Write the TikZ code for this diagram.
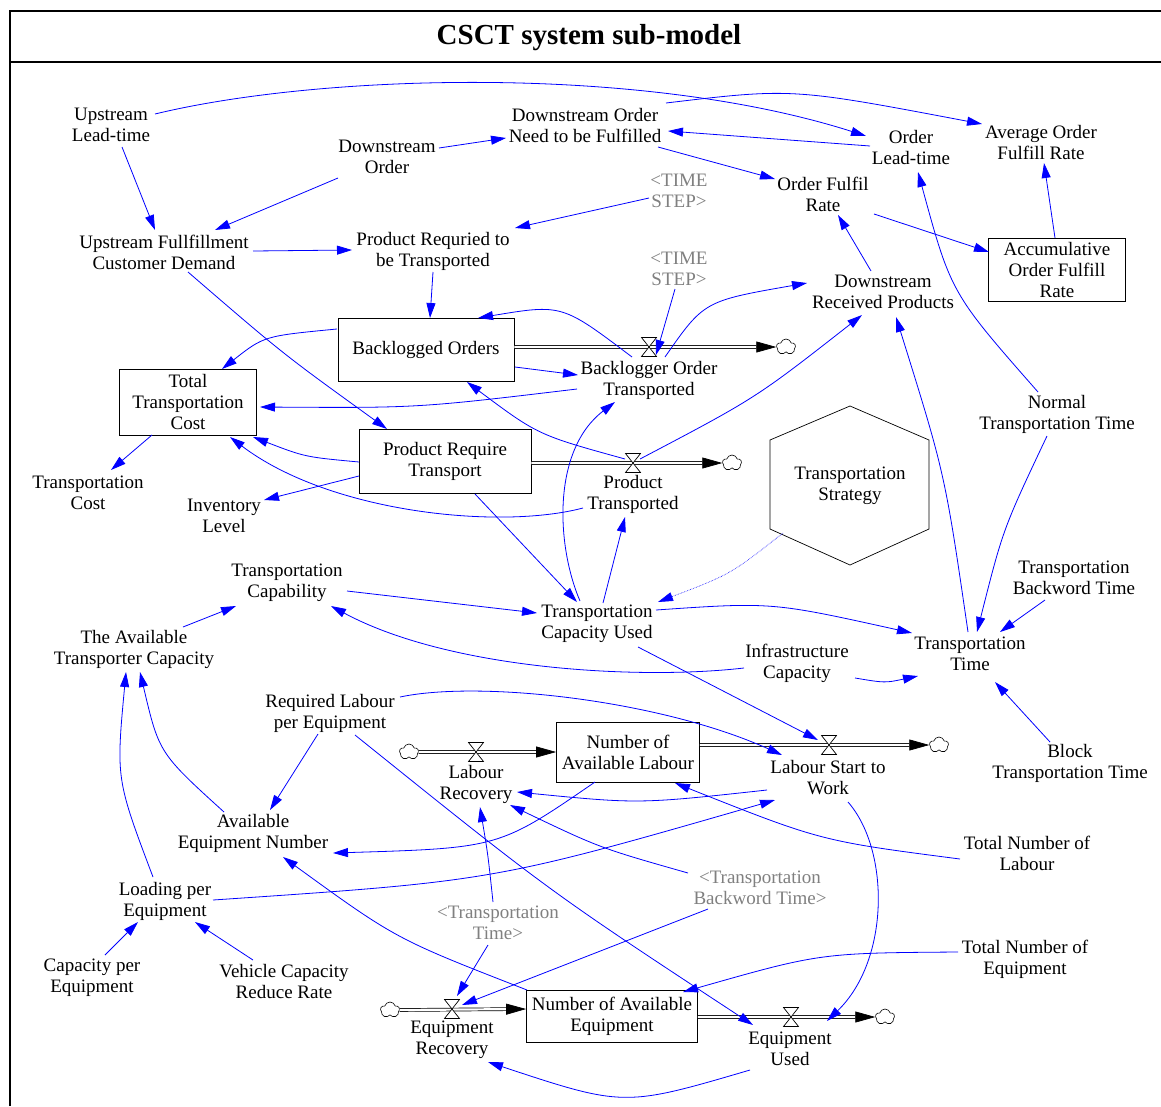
\documentclass[tikz,border=0pt]{standalone}
\usepackage{fontspec}
\setmainfont{Liberation Serif}
\usetikzlibrary{arrows.meta,calc,shapes.symbols}
\definecolor{cblue}{RGB}{0,0,255}
\definecolor{cgray}{RGB}{128,128,128}
\begin{document}
\begin{tikzpicture}[x=1pt,y=-1pt,
  var/.style={align=center, inner sep=0pt, font=\fontsize{19}{21}\selectfont},
  ghost/.style={var, text=cgray},
  stock/.style={draw, line width=0.8pt, align=center, inner sep=0pt, font=\fontsize{19}{21}\selectfont},
  conn/.style={cblue, line width=0.8pt, -{Triangle[length=15pt,width=9pt]}},
  dotconn/.style={cblue, line width=0.6pt, densely dotted, -{Triangle[length=15pt,width=9pt]}},
  pipe/.style={double, double distance=2.2pt, line width=0.7pt, -{Triangle[length=20pt,width=11pt]}},
  cloudnode/.style={cloud, draw, fill=white, cloud puffs=5, cloud puff arc=150, aspect=1.1, minimum width=19pt, minimum height=16pt, inner sep=0pt, line width=0.6pt},
  valvepic/.pic={\draw[fill=white, line width=0.7pt] (-7.5,-9.5) -- (7.5,-9.5) -- (-7.5,9.5) -- (7.5,9.5) -- cycle;}
]
\useasboundingbox (0,0) rectangle (1161,1106);
\fill[white] (0,0) rectangle (1161,1106);
% frame
\draw[line width=2pt] (10,1106) -- (10,11) -- (1161,11);
\draw[line width=2pt] (10,62) -- (1161,62);
\node[font=\fontsize{29}{33}\selectfont\bfseries] (title) at (589,38) {CSCT system sub-model};

% variables
\node[var] (UpLT) at (111,125) {Upstream\\Lead-time};
\node[var] (DO) at (387,157) {Downstream\\Order};
\node[var] (DONF) at (585,125) {Downstream Order\\Need to be Fulfilled};
\node[var] (OLT) at (911,147) {Order\\Lead-time};
\node[var] (AOFR) at (1041,142) {Average Order\\Fulfill Rate};
\node[ghost] (TS1) at (679,191) {<TIME\\STEP>};
\node[var] (OFR) at (823,194) {Order Fulfil\\Rate};
\node[var] (UFCD) at (164,252) {Upstream Fullfillment\\Customer Demand};
\node[var] (PRT) at (433,251) {Product Requried to\\be Transported};
\node[stock, minimum width=137pt, minimum height=63pt] (AOFRb) at (1057,270) {Accumulative\\Order Fulfill\\Rate};
\node[ghost] (TS2) at (679,269) {<TIME\\STEP>};
\node[var] (DRP) at (883,292) {Downstream\\Received Products};
\node[stock, minimum width=176pt, minimum height=63pt] (BO) at (426,350) {Backlogged Orders};
\node[var] (BOT) at (649,380) {Backlogger Order\\Transported};
\node[stock, minimum width=137pt, minimum height=66pt] (TTC) at (188,402) {Total\\Transportation\\Cost};
\node[var] (NTT) at (1057,414) {Normal\\Transportation Time};
\node[stock, minimum width=172pt, minimum height=64pt] (PRTr) at (445,461) {Product Require\\Transport};
\node[var] (PT) at (633,494) {Product\\Transported};
\node[var] (TC) at (88,493) {Transportation\\Cost};
\node[var] (IL) at (224,516) {Inventory\\Level};
\node[var] (TSt) at (850,486) {Transportation\\Strategy};
\draw[line width=0.7pt] ($(TSt)+(0,-80)$) -- ($(TSt)+(79,-46)$) -- ($(TSt)+(79,43)$) -- ($(TSt)+(0,79)$) -- ($(TSt)+(-80,43)$) -- ($(TSt)+(-80,-46)$) -- cycle;
\node[var] (TCap) at (287,583) {Transportation\\Capability};
\node[var] (TCU) at (597,624) {Transportation\\Capacity Used};
\node[var] (TBT) at (1074,578) {Transportation\\Backword Time};
\node[var] (TAT) at (134,649) {The Available\\Transporter Capacity};
\node[var] (TT) at (970,654) {Transportation\\Time};
\node[var] (IC) at (797,663) {Infrastructure\\Capacity};
\node[var] (RLE) at (330,713) {Required Labour\\per Equipment};
\node[stock, minimum width=143pt, minimum height=60pt] (NAL) at (628,752) {Number of\\Available Labour};
\node[var] (LR) at (476,784) {Labour\\Recovery};
\node[var] (LSW) at (828,778) {Labour Start to\\Work};
\node[var] (BTT) at (1070,763) {Block\\Transportation Time};
\node[var] (AEN) at (253,833) {Available\\Equipment Number};
\node[var] (TNL) at (1027,853) {Total Number of\\Labour};
\node[ghost] (TTg) at (760,888) {<Transportation\\Backword Time>};
\node[var] (LPE) at (165,901) {Loading per\\Equipment};
\node[ghost] (TTime) at (498,923) {<Transportation\\Time>};
\node[var] (TNE) at (1025,959) {Total Number of\\Equipment};
\node[var] (CPE) at (92,978) {Capacity per\\Equipment};
\node[var] (VCRR) at (284,981) {Vehicle Capacity\\Reduce Rate};
\node[stock, minimum width=171pt, minimum height=52pt] (NAE) at (612,1016) {Number of Available\\Equipment};
\node[var] (ER) at (452,1040) {Equipment\\Recovery};
\node[var] (EU) at (790,1049) {Equipment\\Used};

% valves and clouds
\coordinate (V1) at (649,347);
\coordinate (V2) at (633,463);
\coordinate (V3) at (476,752);
\coordinate (V4) at (829,745);
\coordinate (V5) at (452,1009);
\coordinate (V6) at (791,1017);
\node[cloudnode] (C1) at (786,347) {};
\node[cloudnode] (C2) at (732,463) {};
\node[cloudnode] (C3) at (409,752) {};
\node[cloudnode] (C4) at (939,745) {};
\node[cloudnode] (C5) at (390,1010) {};
\node[cloudnode] (C6) at (885,1017) {};

% pipes
\draw[pipe] (BO.east |- V1) -- (C1.west);
\draw[pipe] (PRTr.east |- V2) -- (C2.west);
\draw[pipe] (C3.east) -- (NAL.west |- V3);
\draw[pipe] (NAL.east |- V4) -- (C4.west);
\draw[pipe] (C5.east) -- (NAE.west |- V5);
\draw[pipe] (NAE.east |- V6) -- (C6.west);
\pic at (V1) {valvepic};
\pic at (V2) {valvepic};
\pic at (V3) {valvepic};
\pic at (V4) {valvepic};
\pic at (V5) {valvepic};
\pic at (V6) {valvepic};

% connectors
\draw[conn] ($(UpLT)+(44,-11)$) .. controls (320,74) and (640,64) .. ($(OLT)+(-45,-11)$);
\draw[conn] ($(UpLT)+(11,22)$) -- ($(UFCD)+(-9,-22)$);
\draw[conn] ($(DO)+(52,-9)$) -- ($(DONF)+(-79,13)$);
\draw[conn] ($(DO)+(-49,21)$) -- ($(UFCD)+(51,-22)$);
\draw[conn] ($(DONF)+(81,-22)$) .. controls (792,88) .. ($(AOFR)+(-59,-18)$);
\draw[conn] ($(OLT)+(-41,-1)$) -- ($(DONF)+(83,6)$);
\draw[conn] ($(DONF)+(73,22)$) -- ($(OFR)+(-48,-15)$);
\draw[conn] ($(TS1)+(-30,7)$) -- ($(PRT)+(82,-23)$);
\draw[conn] ($(UFCD)+(89,-1)$) -- ($(PRT)+(-81,-1)$);
\draw[conn] ($(OFR)+(51,20)$) -- ($(AOFRb)+(-68,-18)$);
\draw[conn] ($(AOFRb)+(-2,-32)$) -- ($(AOFR)+(3,21)$);
\draw[conn] ($(DRP)+(-12,-21)$) -- ($(OFR)+(15,21)$);
\draw[conn] ($(NTT)+(-19,-22)$) .. controls (951,293) .. ($(OLT)+(7,25)$);
\draw[conn] ($(NTT)+(-10,22)$) .. controls (1003,529) .. ($(TT)+(7,-22)$);
\draw[conn] ($(TT)+(-2,-22)$) .. controls (945,474) .. ($(DRP)+(13,25)$);
\draw[conn] ($(PRT)+(0,21)$) -- ($(BO)+(4,-32)$);
\draw[conn] ($(TS2)+(-4,20)$) -- ($(V1)+(7,8)$);
\draw[conn] ($(BOT)+(16,-23)$) .. controls (704,301) .. ($(DRP)+(-76,-9)$);
\draw[conn] ($(BOT)+(-17,-23)$) .. controls (562,304) .. ($(BO)+(52,-32)$);
\draw[conn] ($(BO)+(89,17)$) -- ($(BOT)+(-71,-5)$);
\draw[conn] ($(BO)+(-89,-21)$) .. controls (264,336) .. ($(TTC)+(34,-33)$);
\draw[conn] ($(BOT)+(-72,9)$) .. controls (418,408) .. ($(TTC)+(72,5)$);
\draw[conn] ($(V2)+(-8,-4)$) .. controls (538,435) .. ($(BO)+(41,32)$);
\draw[conn] ($(V2)+(7,-4)$) .. controls (756,398) .. ($(DRP)+(-21,23)$);
\draw[conn] ($(UFCD)+(24,20)$) .. controls (283,354) .. ($(PRTr)+(-58,-32)$);
\draw[conn] ($(PRTr)+(-86,1)$) .. controls (305,457) .. ($(TTC)+(65,35)$);
\draw[conn] ($(PRTr)+(-86,15)$) -- ($(IL)+(40,-16)$);
\draw[conn] ($(PT)+(-50,14)$) .. controls (500,530) and (330,513) .. ($(TTC)+(42,35)$);
\draw[conn] ($(TTC)+(-36,33)$) -- ($(TC)+(23,-23)$);
\draw[conn] ($(PRTr)+(30,33)$) -- ($(TCU)+(-20,-22)$);
\draw[conn] ($(TCU)+(-17,-23)$) .. controls (556,545) and (552,450) .. ($(BOT)+(-34,22)$);
\draw[conn] ($(TCU)+(6,-21)$) -- ($(PT)+(-8,23)$);
\draw[dotconn] ($(TSt)+(-67,47)$) .. controls (731,574) .. ($(TCU)+(61,-22)$);
\draw[conn] ($(TCap)+(60,8)$) -- ($(TCU)+(-60,-11)$);
\draw[conn] ($(TCU)+(59,-14)$) .. controls (772,602) .. ($(TT)+(-58,-21)$);
\draw[conn] ($(IC)+(-53,5)$) .. controls (640,680) and (450,670) .. ($(TCap)+(44,23)$);
\draw[conn] ($(IC)+(58,15)$) .. controls (885,683) .. ($(TT)+(-52,22)$);
\draw[conn] ($(TBT)+(-29,22)$) -- ($(TT)+(30,-22)$);
\draw[conn] ($(BTT)+(-20,-21)$) -- ($(TT)+(25,28)$);
\draw[conn] ($(TCU)+(41,23)$) -- ($(V4)+(-11,-5)$);
\draw[conn] ($(TAT)+(49,-22)$) -- ($(TCap)+(-51,23)$);
\draw[conn] ($(RLE)+(70,-16)$) .. controls (480,680) and (660,700) .. ($(LSW)+(-46,-23)$);
\draw[conn] ($(RLE)+(-12,21)$) -- ($(AEN)+(17,-23)$);
\draw[conn] ($(RLE)+(25,22)$) .. controls (549,891) .. ($(EU)+(-37,-24)$);
\draw[conn] ($(AEN)+(-29,-21)$) .. controls (159,753) .. ($(TAT)+(6,23)$);
\draw[conn] ($(LPE)+(-12,-24)$) .. controls (116,779) .. ($(TAT)+(-8,23)$);
\draw[conn] ($(NAL)+(-33,30)$) .. controls (499,848) .. ($(AEN)+(80,20)$);
\draw[conn] ($(LSW)+(-61,12)$) .. controls (639,804) .. ($(LR)+(41,8)$);
\draw[conn] ($(TTg)+(-72,-15)$) .. controls (600,848) .. ($(LR)+(34,21)$);
\draw[conn] ($(LPE)+(48,-1)$) .. controls (494,881) .. ($(LSW)+(-53,22)$);
\draw[conn] ($(TNL)+(-67,6)$) .. controls (821,841) .. ($(NAL)+(47,31)$);
\draw[conn] ($(LSW)+(20,24)$) .. controls (890,850) and (890,960) .. ($(EU)+(37,-28)$);
\draw[conn] ($(TTime)+(-5,-21)$) .. controls (488,855) .. ($(LR)+(4,23)$);
\draw[conn] ($(TTime)+(-10,22)$) -- ($(V5)+(5,-13)$);
\draw[conn] ($(TTg)+(-52,21)$) -- ($(V5)+(10,-4)$);
\draw[conn] ($(NAE)+(-85,-26)$) .. controls (396,939) .. ($(AEN)+(30,24)$);
\draw[conn] ($(TNE)+(-67,-7)$) .. controls (820,953) .. ($(NAE)+(71,-24)$);
\draw[conn] ($(EU)+(-40,21)$) .. controls (624,1107) .. ($(ER)+(36,22)$);
\draw[conn] ($(CPE)+(13,-23)$) -- ($(LPE)+(-27,21)$);
\draw[conn] ($(VCRR)+(-31,-21)$) -- ($(LPE)+(30,21)$);
\end{tikzpicture}
\end{document}
